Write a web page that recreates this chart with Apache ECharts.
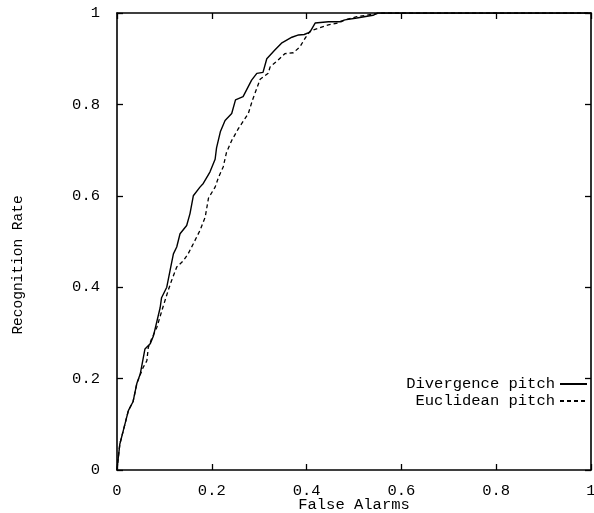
<!DOCTYPE html>
<html>
<head>
<meta charset="utf-8">
<script src="https://cdn.jsdelivr.net/npm/echarts@6/dist/echarts.min.js"></script>
<style>
  html, body { margin: 0; padding: 0; background: #fff; }
  #chart { width: 594px; height: 513px; }
</style>
</head>
<body>
<div id="chart"></div>
<script>
// points: [false alarm rate, recognition rate]
const divergencePitch = [
  [0, 0], [0.002, 0.02], [0.006, 0.057], [0.013, 0.085], [0.024, 0.13], [0.034, 0.15],
  [0.042, 0.19], [0.049, 0.21], [0.059, 0.265], [0.07, 0.276], [0.077, 0.294],
  [0.091, 0.355], [0.094, 0.377], [0.105, 0.4], [0.112, 0.437], [0.119, 0.473],
  [0.126, 0.488], [0.133, 0.517], [0.147, 0.535], [0.154, 0.561], [0.161, 0.6],
  [0.175, 0.619], [0.182, 0.627], [0.196, 0.652], [0.207, 0.68], [0.21, 0.705],
  [0.218, 0.74], [0.228, 0.765], [0.242, 0.78], [0.25, 0.81], [0.266, 0.817],
  [0.284, 0.853], [0.295, 0.868], [0.308, 0.87], [0.316, 0.9], [0.333, 0.919],
  [0.347, 0.934], [0.369, 0.947], [0.383, 0.952], [0.395, 0.953], [0.407, 0.958],
  [0.418, 0.978], [0.446, 0.981], [0.47, 0.981], [0.481, 0.985], [0.506, 0.989],
  [0.54, 0.995], [0.55, 1], [1, 1]
];

const euclideanPitch = [
  [0, 0], [0.002, 0.02], [0.006, 0.057], [0.013, 0.085], [0.024, 0.13], [0.034, 0.15],
  [0.042, 0.19], [0.055, 0.224], [0.063, 0.239], [0.066, 0.268], [0.073, 0.287],
  [0.084, 0.312], [0.098, 0.36], [0.108, 0.393], [0.115, 0.414], [0.126, 0.444],
  [0.14, 0.458], [0.15, 0.473], [0.161, 0.495], [0.175, 0.524], [0.186, 0.553],
  [0.193, 0.595], [0.207, 0.619], [0.214, 0.64], [0.224, 0.663], [0.231, 0.695],
  [0.242, 0.721], [0.256, 0.747], [0.277, 0.78], [0.286, 0.81], [0.302, 0.855],
  [0.319, 0.868], [0.323, 0.882], [0.34, 0.897], [0.354, 0.911], [0.372, 0.913],
  [0.386, 0.926], [0.397, 0.945], [0.407, 0.96], [0.425, 0.967], [0.446, 0.974],
  [0.467, 0.978], [0.481, 0.985], [0.506, 0.992], [0.527, 0.995], [0.54, 0.998],
  [0.56, 1], [1, 1]
];

const seriesNames = ['Divergence pitch', 'Euclidean pitch'];

const font = 'Liberation Mono';
const ink = '#000';

const chart = echarts.init(document.getElementById('chart'), null, { renderer: 'canvas' });

function axisBase(show) {
  return {
    type: 'value',
    min: 0,
    max: 1,
    interval: 0.2,
    axisLine: { show: true, onZero: false, lineStyle: { color: ink, width: 1.6 } },
    axisTick: { show: true, inside: true, length: 6, lineStyle: { color: ink, width: 1.3 } },
    axisLabel: { show: show, color: ink, fontFamily: font, fontSize: 15.5 },
    splitLine: { show: false }
  };
}

chart.setOption({
  animation: false,
  backgroundColor: '#fff',
  grid: { left: 117, right: 3, top: 13, bottom: 43, containLabel: false, outerBoundsMode: 'none' },
  legend: {
    orient: 'vertical',
    align: 'right',
    right: 1,
    top: 371,
    itemWidth: 27,
    itemHeight: 10,
    itemGap: 1,
    itemStyle: { opacity: 0 },
    textStyle: { color: ink, fontFamily: font, fontSize: 15.5 },
    data: seriesNames
  },
  // the y title sits below the plot middle in the original
  graphic: [{
    type: 'text',
    x: 18,
    y: 265,
    rotation: Math.PI / 2,
    style: {
      text: 'Recognition Rate',
      fill: ink,
      font: '14.5px "Liberation Mono"',
      textAlign: 'center',
      textVerticalAlign: 'middle'
    }
  }],
  xAxis: [
    Object.assign(axisBase(true), {
      position: 'bottom',
      name: 'False Alarms',
      nameLocation: 'middle',
      nameGap: 27,
      nameMoveOverlap: false,
      nameTextStyle: { color: ink, fontFamily: font, fontSize: 15.5 },
      axisLabel: { color: ink, fontFamily: font, fontSize: 15.5, margin: 13 }
    }),
    Object.assign(axisBase(false), { position: 'top' })
  ],
  yAxis: [
    Object.assign(axisBase(true), {
      position: 'left',
      axisLabel: { color: ink, fontFamily: font, fontSize: 15.5, margin: 17 }
    }),
    Object.assign(axisBase(false), { position: 'right' })
  ],
  series: [
    {
      name: seriesNames[0],
      type: 'line',
      data: divergencePitch,
      showSymbol: false,
      symbol: 'none',
      lineStyle: { color: ink, width: 1.4 },
      itemStyle: { color: ink }
    },
    {
      name: seriesNames[1],
      type: 'line',
      data: euclideanPitch,
      showSymbol: false,
      symbol: 'none',
      lineStyle: { color: ink, width: 1.3, type: [4, 3] },
      itemStyle: { color: ink }
    }
  ]
});
</script>
</body>
</html>
